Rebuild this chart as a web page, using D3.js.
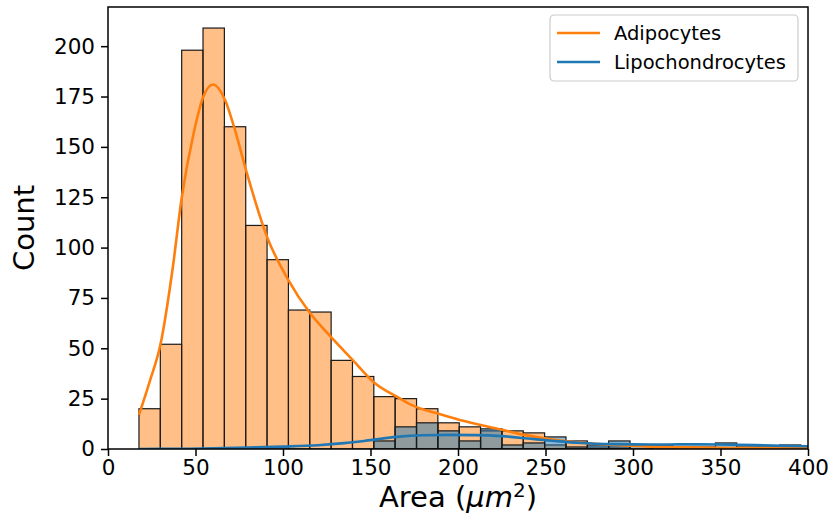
<!DOCTYPE html>
<html lang="en">
<head>
    <meta charset="UTF-8">
    <title>Area histogram</title>
    <style>
        body { margin: 0; background: #fff; }
        svg text { font-family: "DejaVu Sans", sans-serif; fill: #000; }
    </style>
</head>
<body>
    <svg width="834" height="529"></svg>
    <script src="https://d3js.org/d3.v7.min.js"></script>
    <script>
        // histogram bins (shared by both groups)
        var binStart = 17.7,
            binWidth = 12.2;

        var adipocytes = [20, 52, 198, 209, 160, 111, 94, 69, 68, 44, 36, 26, 25, 20, 13, 11,
                          9, 9, 8, 2, 4, 1, 1, 0, 0, 0, 0, 0, 0, 0, 0, 0];
        var lipochondrocytes = [0, 0, 0, 0, 0, 0, 0, 0, 0, 0, 0, 4, 11, 13, 9, 4,
                                10, 2, 3, 6, 1, 2, 4, 2, 2, 1, 1, 3, 1, 1, 2, 1];

        // kde curves, [area, count]
        var adipoKde = [[17.7, 17], [24, 34], [30, 52], [37, 90], [42, 124], [49, 157], [54.5, 175],
                        [60, 181], [67, 173], [72, 160], [79, 138], [91, 105], [103, 84], [115, 68],
                        [127, 56], [140, 44], [152, 33], [167, 25], [173, 22], [188, 17.7], [201, 14.4],
                        [213, 11.9], [226, 9.4], [235, 7.5], [252, 5], [271, 3.1], [290, 2], [309, 1.2],
                        [330, 0.8], [360, 0.5], [410, 0.3]];
        var lipoKde = [[17.7, 0], [40, 0.1], [60, 0.3], [80, 0.7], [100, 1.2], [120, 1.9], [135, 2.9],
                       [150, 4.4], [165, 6.0], [180, 6.8], [195, 7.0], [210, 6.9], [225, 6.4], [240, 5.2],
                       [255, 4.0], [270, 3.0], [290, 2.4], [310, 2.2], [330, 2.3], [350, 2.2], [370, 1.9],
                       [390, 1.5], [410, 1.2]];

        var xTicks = [0, 50, 100, 150, 200, 250, 300, 350, 400];
        var yTicks = [0, 25, 50, 75, 100, 125, 150, 175, 200];

        var orange = "#ff7f0e", blue = "#1f77b4";

        var svg = d3.select("svg"),
            margin = {top: 7, right: 26, bottom: 80, left: 108},
            width = +svg.attr("width") - margin.left - margin.right,
            height = +svg.attr("height") - margin.top - margin.bottom;

        var x = d3.scaleLinear().domain([0, 400]).range([0, width]),
            y = d3.scaleLinear().domain([0, 219.45]).range([height, 0]);

        svg.append("defs").append("clipPath").attr("id", "plot")
            .append("rect").attr("width", width).attr("height", height);

        var g = svg.append("g")
            .attr("transform", "translate(" + margin.left + "," + margin.top + ")");

        var plot = g.append("g").attr("clip-path", "url(#plot)");

        function drawBars(counts, color) {
            plot.append("g").selectAll("rect")
                .data(counts)
                .enter().append("rect")
                .attr("x", function(d, i) { return x(binStart + i * binWidth); })
                .attr("width", function(d, i) { return x(binStart + (i + 1) * binWidth) - x(binStart + i * binWidth); })
                .attr("y", function(d) { return y(d); })
                .attr("height", function(d) { return y(0) - y(d); })
                .attr("fill", color)
                .attr("fill-opacity", 0.5)
                .attr("stroke", "#1a1a1a")
                .attr("stroke-width", 1.2);
        }
        drawBars(adipocytes, orange);
        drawBars(lipochondrocytes, blue);

        var line = d3.line()
            .x(function(d) { return x(d[0]); })
            .y(function(d) { return y(d[1]); })
            .curve(d3.curveMonotoneX);

        plot.append("path").datum(adipoKde)
            .attr("d", line).attr("fill", "none")
            .attr("stroke", orange).attr("stroke-width", 2.6);
        plot.append("path").datum(lipoKde)
            .attr("d", line).attr("fill", "none")
            .attr("stroke", blue).attr("stroke-width", 2.6);

        // axes
        var xAxis = g.append("g")
            .attr("transform", "translate(0," + height + ")")
            .call(d3.axisBottom(x).tickValues(xTicks).tickSize(7).tickPadding(4));
        var yAxis = g.append("g")
            .call(d3.axisLeft(y).tickValues(yTicks).tickSize(7).tickPadding(6));

        [xAxis, yAxis].forEach(function(a) {
            a.select(".domain").remove();
            a.selectAll("line").attr("stroke", "#000").attr("stroke-width", 1.5);
            a.selectAll("text").style("font-size", "21.5px").attr("fill", "#000");
        });

        // frame
        g.append("rect")
            .attr("width", width).attr("height", height)
            .attr("fill", "none").attr("stroke", "#000").attr("stroke-width", 1.5);

        // axis labels
        var xl = svg.append("text")
            .attr("x", margin.left + width / 2)
            .attr("y", 507)
            .attr("text-anchor", "middle")
            .style("font-size", "29px");
        xl.append("tspan").text("Area (");
        xl.append("tspan").style("font-style", "italic").text("μm");
        xl.append("tspan").attr("dy", -10).style("font-size", "20px").text("2");
        xl.append("tspan").attr("dy", 10).text(")");

        svg.append("text")
            .attr("transform", "translate(34," + (margin.top + height / 2) + ") rotate(-90)")
            .attr("text-anchor", "middle")
            .style("font-size", "29px")
            .text("Count");

        // legend
        var legendItems = [{label: "Adipocytes", color: orange}, {label: "Lipochondrocytes", color: blue}];
        var legend = svg.append("g").attr("transform", "translate(550,15)");
        legend.append("rect")
            .attr("width", 248).attr("height", 66).attr("rx", 4)
            .attr("fill", "#fff").attr("fill-opacity", 0.8)
            .attr("stroke", "#cccccc").attr("stroke-width", 1.2);
        var li = legend.selectAll(".item")
            .data(legendItems)
            .enter().append("g")
            .attr("transform", function(d, i) { return "translate(0," + (18 + i * 29) + ")"; });
        li.append("line")
            .attr("x1", 7).attr("x2", 50)
            .attr("stroke", function(d) { return d.color; })
            .attr("stroke-width", 2.6);
        li.append("text")
            .attr("x", 64).attr("dy", "0.35em")
            .style("font-size", "19.5px")
            .text(function(d) { return d.label; });
    </script>
</body>
</html>
